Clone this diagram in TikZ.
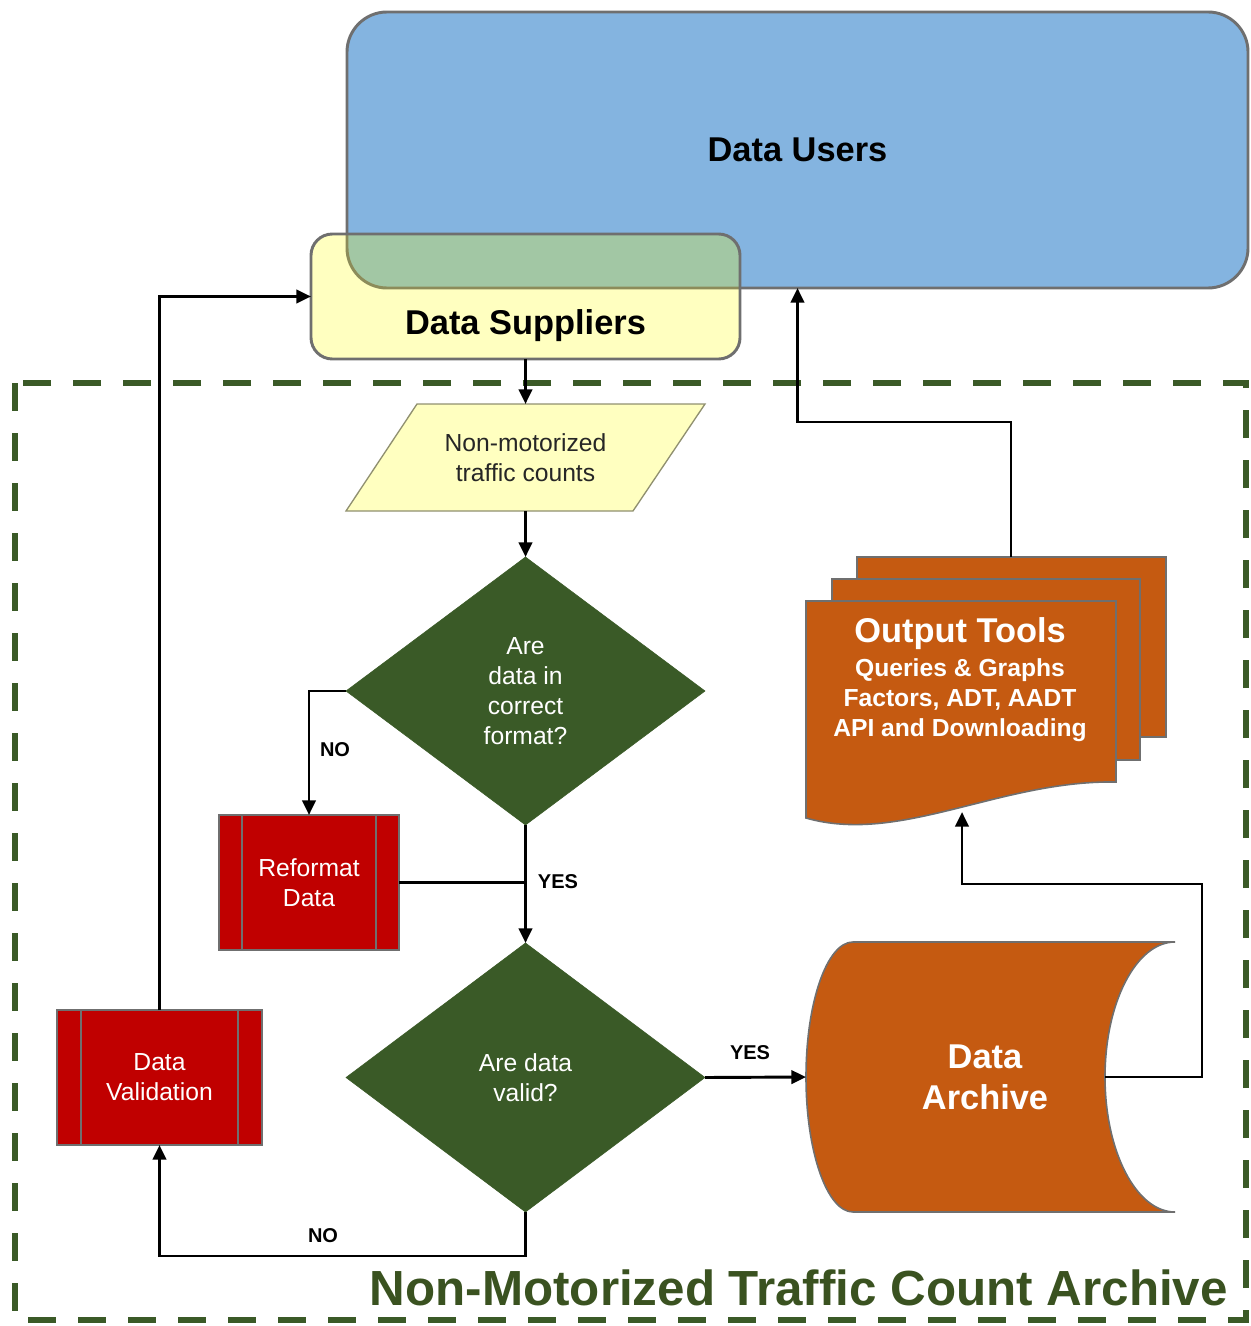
\documentclass[tikz,border=0pt]{standalone}
\usepackage{fontspec}
\setmainfont{Liberation Sans}
\usetikzlibrary{arrows.meta,shapes.geometric,calc}
\definecolor{userblue}{HTML}{84B4E0}
\definecolor{edgegray}{HTML}{6F6F6F}
\definecolor{supyellow}{HTML}{FFFFC0}
\definecolor{overlapgreen}{HTML}{A2C7A4}
\definecolor{olivegray}{HTML}{8C8C5A}
\definecolor{paraedge}{HTML}{909070}
\definecolor{dgreen}{HTML}{3A5A27}
\definecolor{procred}{HTML}{C00000}
\definecolor{archorange}{HTML}{C55A11}
\definecolor{framegreen}{HTML}{3B5A27}
\definecolor{titlegreen}{HTML}{3A5220}
\begin{document}
\begin{tikzpicture}[x=0.75pt,y=-0.75pt,
  conn/.style={line width=2.2pt},
  arr/.style={conn,-{Triangle[length=11pt,width=10pt]}},
  yn/.style={font=\bfseries\fontsize{15}{18}\selectfont, inner sep=0},
  bigtxt/.style={font=\bfseries\fontsize{25.8}{30.75}\selectfont, align=center, inner sep=0},
  smalltxt/.style={font=\fontsize{18.5}{22.5}\selectfont, align=center, inner sep=0},
  procbox/.style={fill=procred, draw=edgegray, line width=1pt, outer sep=0, inner sep=0,
     text=white, font=\fontsize{18.5}{22.5}\selectfont, align=center},
  decision/.style={diamond, fill=dgreen, draw=dgreen, outer sep=0, inner sep=0},
  docshape/.style={fill=archorange, draw=edgegray, line width=1.2pt},
]
\useasboundingbox (0,0) rectangle (1250,1326);

% frame
\draw[framegreen, line width=5pt, dash pattern=on 21pt off 16.5pt] (15,383) rectangle (1246,1320);

% Data Users
\node[fill=userblue, draw=edgegray, line width=2.2pt, rounded corners=30pt,
      minimum width=675.75pt, minimum height=207pt, outer sep=0, inner sep=0,
      font=\bfseries\fontsize{25.8}{30.75}\selectfont] (users) at (797.5,150) {Data Users};

% Data Suppliers
\node[fill=supyellow, minimum width=321.75pt, minimum height=93.75pt, rounded corners=16pt,
      outer sep=0, inner sep=0] (suppliers) at (525.5,296.5) {};
\begin{scope}
  \clip[rounded corners=16pt] (suppliers.north west) rectangle (suppliers.south east);
  \fill[overlapgreen, rounded corners=30pt] (users.north west) rectangle (users.south east);
  \draw[olivegray, line width=2.2pt, rounded corners=30pt] (users.north west) rectangle (users.south east);
\end{scope}
\draw[edgegray, line width=2.2pt, rounded corners=16pt] (suppliers.north west) rectangle (suppliers.south east);
\node[bigtxt] (suptext) at (525.5,326) {Data Suppliers};

% parallelogram
\filldraw[fill=supyellow, draw=paraedge, line width=1pt] (417,404) -- (705,404) -- (633,511) -- (346,511) -- cycle;
\node[smalltxt, text=black!85, minimum width=269.25pt, minimum height=80.25pt, outer sep=0] (counts) at (525.5,457.5) {Non-motorized\\traffic counts};

% decisions
\node[decision, minimum width=269.25pt, minimum height=201pt] (d1) at (525.5,691) {};
\node[smalltxt, text=white] (d1text) at (d1) {Are\\data in\\correct\\format?};
\node[decision, minimum width=269.25pt, minimum height=201.75pt] (d2) at (525.5,1077.5) {};
\node[smalltxt, text=white] (d2text) at (d2) {Are data\\valid?};

% processes
\node[procbox, minimum width=135pt, minimum height=101.25pt] (reformat) at (309,882.5) {Reformat\\Data};
\draw[edgegray, line width=1pt] ([xshift=17.25pt]reformat.north west) -- ([xshift=17.25pt]reformat.south west);
\draw[edgegray, line width=1pt] ([xshift=-17.25pt]reformat.north east) -- ([xshift=-17.25pt]reformat.south east);
\node[procbox, minimum width=153.75pt, minimum height=101.25pt] (validation) at (159.5,1077.5) {Data\\Validation};
\draw[edgegray, line width=1pt] ([xshift=18pt]validation.north west) -- ([xshift=18pt]validation.south west);
\draw[edgegray, line width=1pt] ([xshift=-18pt]validation.north east) -- ([xshift=-18pt]validation.south east);

% Data Archive
\filldraw[docshape] (853,942) -- (1175,942)
   .. controls (1136.3,942) and (1105,1002.4) .. (1105,1077)
   .. controls (1105,1151.6) and (1136.3,1212) .. (1175,1212)
   -- (853,1212)
   .. controls (827,1212) and (806,1151.6) .. (806,1077)
   .. controls (806,1002.4) and (827,942) .. cycle;
\node[minimum width=224.25pt, minimum height=202.5pt, inner sep=0, outer sep=0] (archive) at (955.5,1077) {};
\node[bigtxt, text=white] (archtext) at (985,1077) {Data\\Archive};

% Output Tools
\filldraw[docshape] (857,557) rectangle (1166,737);
\filldraw[docshape] (832,579) rectangle (1140,760);
\filldraw[docshape] (806,601) -- (1116,601) -- (1116,782)
   .. controls (1000,780) and (900,845) .. (806,818) -- cycle;
\node[minimum width=232.5pt, minimum height=162.75pt, inner sep=0, outer sep=0] (tools) at (961,709.5) {};
\node[bigtxt, text=white] (toolstitle) at (960,634) {Output Tools};
\node[font=\bfseries\fontsize{18.5}{22.5}\selectfont, align=center, text=white, inner sep=0] (toolslist) at (960,700)
   {Queries \& Graphs\\Factors, ADT, AADT\\API and Downloading};
\coordinate (toolsin) at (962,812);
\coordinate (toolsout) at (1011,557);

% connectors
\draw[arr] (suppliers.south) -- (counts.north);
\draw[arr] (counts.south) -- (d1.north);
\draw[arr] (d1.west) -| (reformat.north);
\draw[arr] (d1.south) -- (d2.north);
\draw[conn] (reformat.east) -- (reformat.east -| d1.south);
\draw[arr] (d2.east) -- (archive.west);
\draw[arr] (d2.south) -- ++(0,44) -| (validation.south);
\draw[arr] (validation.north) |- (suppliers.west);
\draw[arr] (archive.east) -- ++(97,0) -- ++(0,-193) -| (toolsin);
\draw[arr] (toolsout) -- ++(0,-135) -| (users.south);

% labels
\node[yn] (no1) at (335,750) {NO};
\node[yn] (yes1) at (558,882) {YES};
\node[yn] (yes2) at (750,1053) {YES};
\node[yn] (no2) at (323,1236) {NO};

% title
\node[font=\bfseries\fontsize{37}{44}\selectfont, text=titlegreen, anchor=base east, inner sep=0] (title) at (1228,1305) {Non-Motorized Traffic Count Archive};
\end{tikzpicture}
\end{document}
